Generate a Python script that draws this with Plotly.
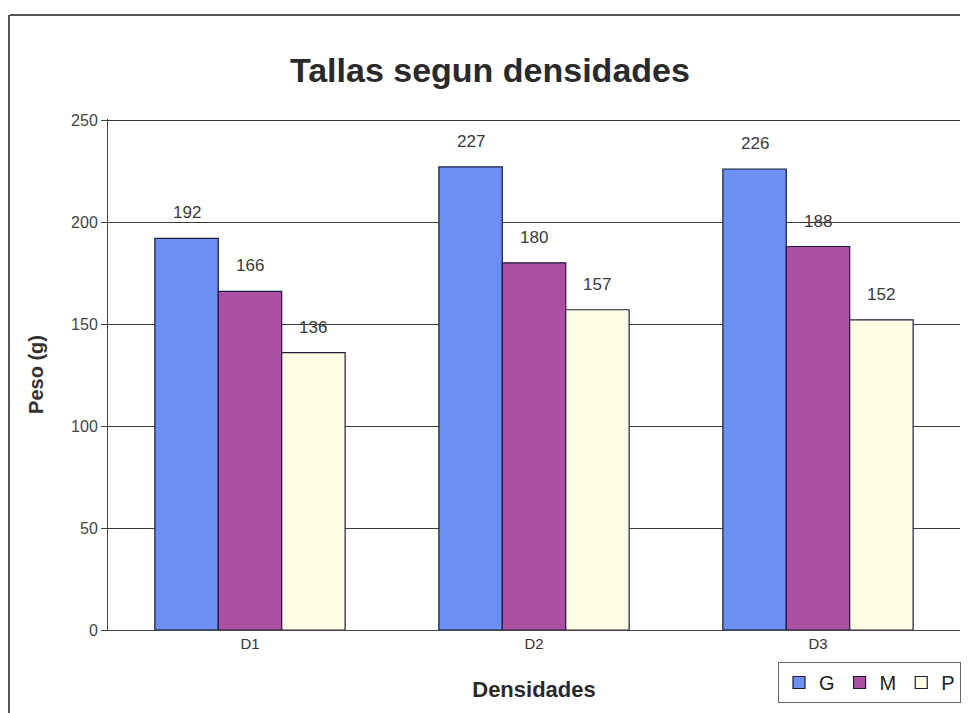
import plotly.graph_objects as go

categories = ["D1", "D2", "D3"]
series_names = ["G", "M", "P"]
values_g = [192, 227, 226]
values_m = [166, 180, 188]
values_p = [136, 157, 152]
y_ticks = [0, 50, 100, 150, 200, 250]

colors = {"G": "#6b8ff2", "M": "#ad4fa5", "P": "#fffde6"}

W, H = 974, 713
L, R, T, B = 108, 14, 119, 83
plot_w = W - L - R
plot_h = H - T - B


def px_x(x):
    return (x - L) / plot_w


def px_y(y):
    return (H - B - y) / plot_h


fig = go.Figure()
for name, vals in zip(series_names, [values_g, values_m, values_p]):
    fig.add_trace(go.Bar(
        x=categories, y=vals, name=name,
        marker=dict(color=colors[name], line=dict(color="#1c1c3a", width=1.2)),
        offsetgroup=name,
    ))

# value labels above each bar, placed from the same values
offsets = {"G": -1, "M": 0, "P": 1}
bar_w_frac = (1 - 0.33) / 3
for name, vals in zip(series_names, [values_g, values_m, values_p]):
    for i, v in enumerate(vals):
        fig.add_annotation(
            x=i + offsets[name] * bar_w_frac, y=v, xref="x", yref="y",
            text=str(v), showarrow=False, yanchor="bottom", yshift=14,
            font=dict(family="Liberation Sans, Arial", size=17, color="#3a3a3a"),
        )

fig.update_layout(
    width=W, height=H,
    margin=dict(l=L, r=R, t=T, b=B, autoexpand=False),
    paper_bgcolor="white", plot_bgcolor="white",
    barmode="group", bargap=0.33, bargroupgap=0,
    title=dict(text="<b>Tallas segun densidades</b>", x=0.503,
               xanchor="center", y=1 - 70 / H, yanchor="middle",
               font=dict(family="Liberation Sans, Arial", size=34, color="#2a2a2a")),
    font=dict(family="Liberation Sans, Arial", color="#333333"),
    showlegend=True,
    legend=dict(orientation="h", x=px_x(778), y=px_y(662), xanchor="left", yanchor="top",
                bordercolor="#666666", borderwidth=1, bgcolor="white",
                font=dict(size=20, color="#222222"), traceorder="normal",
                itemwidth=30, tracegroupgap=0),
    yaxis=dict(range=[0, 250.5], tickvals=y_ticks, showgrid=True, gridcolor="#3a3a3a",
               gridwidth=1, showline=True, linecolor="#444444", linewidth=1,
               ticks="outside", ticklen=6, tickcolor="#444444",
               tickfont=dict(size=16, color="#444444"),
               title=dict(text="<b>Peso (g)</b>", font=dict(size=20, color="#333333"),
                          standoff=22),
               zeroline=False),
    xaxis=dict(showline=True, linecolor="#444444", linewidth=1, ticks="",
               tickfont=dict(size=15, color="#333333"),
               title=dict(text="<b>Densidades</b>", font=dict(size=22, color="#2a2a2a"),
                          standoff=30)),
)

# chart frame: top and left border lines
fig.add_shape(type="line", xref="paper", yref="paper",
              x0=px_x(10), x1=px_x(960), y0=px_y(15), y1=px_y(15),
              line=dict(color="#555555", width=2))
fig.add_shape(type="line", xref="paper", yref="paper",
              x0=px_x(9), x1=px_x(9), y0=px_y(15), y1=px_y(713),
              line=dict(color="#555555", width=2))

fig.write_html("out.html")
